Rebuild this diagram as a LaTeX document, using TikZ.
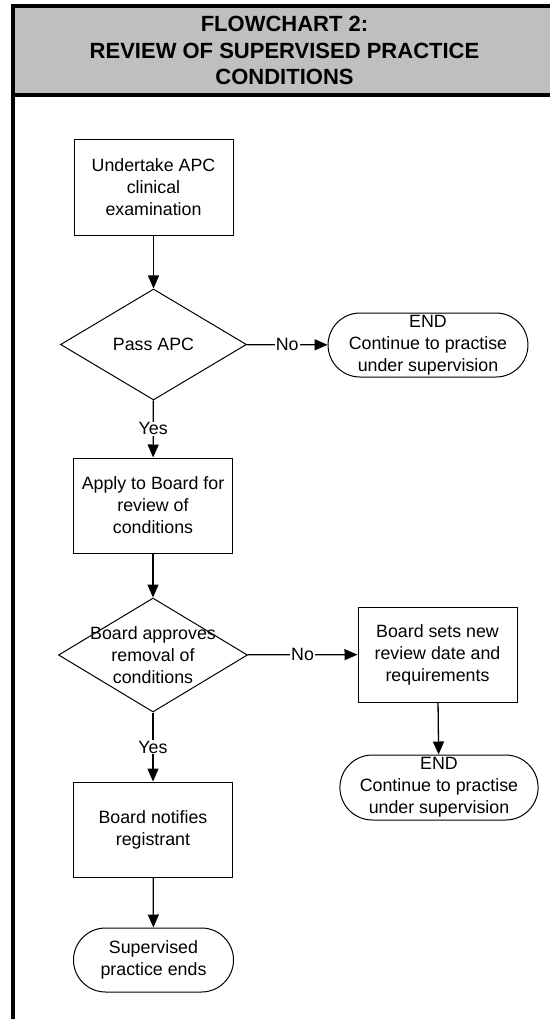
\documentclass[tikz,border=0pt]{standalone}
\usepackage{fontspec}
\setmainfont{Liberation Sans}
\usetikzlibrary{calc,shapes.geometric,shapes.misc,arrows.meta}

\tikzset{
  process/.style={draw, line width=1pt, minimum width=159pt, minimum height=95pt, align=center},
  decision/.style={draw, diamond, line width=1pt, inner sep=0pt},
  terminal/.style={draw, rounded rectangle, line width=1pt, minimum width=191pt, minimum height=64pt, align=center, inner sep=0pt},
  flow/.style={line width=1.3pt, -{Triangle[length=13pt,width=11pt]}},
  lbl/.style={fill=white, inner sep=1pt},
}

\begin{document}
\begin{tikzpicture}[x=1pt, y=-1pt, font=\fontsize{17.8}{22}\selectfont]
        \useasboundingbox (0,0) rectangle (549,1019);

        % Heading
        \node (title) at (284.5,50.5) [draw, line width=4pt, fill=gray!50, minimum width=543pt, minimum height=89pt, align=center, font=\fontsize{22}{26.5}\selectfont\bfseries]
              {FLOWCHART 2:\\REVIEW OF SUPERVISED PRACTICE\\CONDITIONS};
        \draw [line width=4pt] (13,95) -- (13,1030);

        % Exam
        \node (exam) at (153.5,187.5) [process] {Undertake APC\\clinical\\examination};

        \node (pass) at ($(exam) + (0,157)$) [decision, minimum width=186pt, minimum height=111pt] {};
        \node (passText) at (pass) {Pass APC};

        \node (endA) at ($(pass) + (274.5,0.5)$) [terminal] {END\\Continue to practise\\under supervision};

        % Review
        \node (apply) at ($(pass) + (-0.5,161)$) [process] {Apply to Board for\\review of\\conditions};

        \node (approve) at ($(apply) + (0,149.5)$) [decision, minimum width=189pt, minimum height=114pt] {};
        \node (approveText) at (approve) [align=center] {Board approves\\removal of\\conditions};

        \node (newdate) at ($(approve) + (284.5,-0.5)$) [process] {Board sets new\\review date and\\requirements};

        \node (endB) at ($(newdate) + (1.5,133)$) [terminal, minimum width=195pt, minimum height=65pt] {END\\Continue to practise\\under supervision};

        % Outcome
        \node (notify) at ($(approve) + (0,174.5)$) [process] {Board notifies\\registrant};

        \node (ends) at ($(notify) + (0.5,130.5)$) [terminal, minimum width=160pt] {Supervised\\practice ends};

        % Connectors

        \draw [flow] (exam) -- (pass);
        \draw [flow] (pass) -- node [lbl] {No} (endA);
        \draw [flow] (pass) -- node [lbl] {Yes} (apply);
        \draw [flow] (apply) -- (approve);
        \draw [flow] (approve) -- node [lbl] {No} (newdate);
        \draw [flow] (newdate) -- (endB);
        \draw [flow] (approve) -- node [lbl] {Yes} (notify);
        \draw [flow] (notify) -- (ends);

    \end{tikzpicture}
\end{document}
